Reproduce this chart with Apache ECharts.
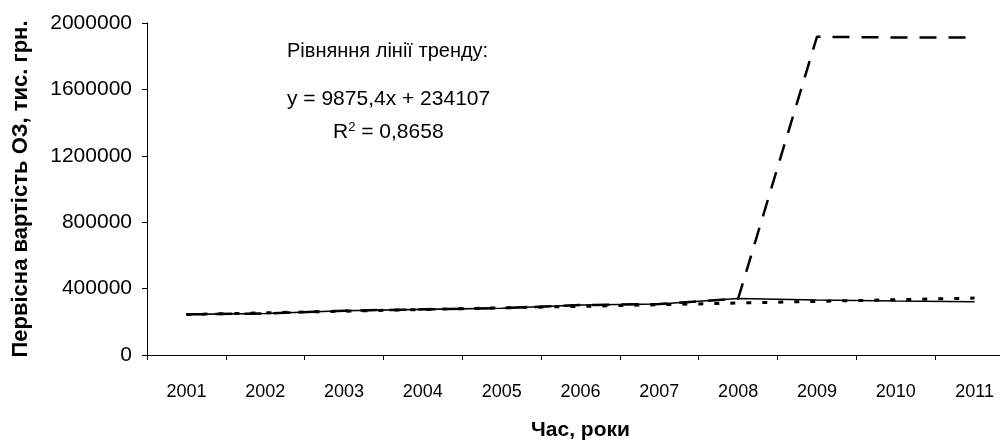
<!DOCTYPE html>
<html>
<head>
<meta charset="utf-8">
<script src="https://cdn.jsdelivr.net/npm/echarts@6/dist/echarts.min.js"></script>
<style>html,body{margin:0;padding:0;background:#fff}#c{width:1000px;height:441px}</style>
</head>
<body>
<div id="c"></div>
<script>
const years = ['2001','2002','2003','2004','2005','2006','2007','2008','2009','2010','2011'];
const actual = [245000, 250000, 267000, 275000, 282000, 301000, 307000, 340000, 331000, 325000, 321000];
const forecast = [245000, 250000, 267000, 275000, 282000, 301000, 307000, 340000, 1917000, 1913000, 1913000];
const trend = [244000, 254000, 264000, 274000, 284000, 293000, 303000, 313000, 323000, 333000, 343000];
const yTicks = [0, 400000, 800000, 1200000, 1600000, 2000000];

const FONT = '"Liberation Sans", Arial, sans-serif';
const chart = echarts.init(document.getElementById('c'), null, {renderer: 'canvas'});
chart.setOption({
  animation: false,
  backgroundColor: '#fff',
  grid: {left: 147, width: 867, top: 23, height: 332, containLabel: false, outerBoundsMode: 'none'},
  xAxis: {
    type: 'category', data: years, boundaryGap: true,
    name: 'Час, роки', nameLocation: 'middle', nameGap: 65,
    nameTextStyle: {fontFamily: FONT, fontSize: 21, fontWeight: 'bold', color: '#000'},
    axisLine: {lineStyle: {color: '#000', width: 1}},
    axisTick: {show: true, length: 5, lineStyle: {color: '#000'}},
    axisLabel: {fontFamily: FONT, fontSize: 18, color: '#000', margin: 28}
  },
  yAxis: {
    type: 'value', min: yTicks[0], max: yTicks[yTicks.length-1], interval: 400000,
    name: 'Первісна вартість ОЗ, тис. грн.', nameLocation: 'middle', nameGap: 115,
    nameTextStyle: {fontFamily: FONT, fontSize: 22, fontWeight: 'bold', color: '#000'},
    axisLine: {show: true, lineStyle: {color: '#000', width: 1}},
    axisTick: {show: true, length: 5, lineStyle: {color: '#000'}},
    splitLine: {show: false},
    axisLabel: {fontFamily: FONT, fontSize: 21, color: '#000', margin: 15,
      formatter: v => String(v)}
  },
  series: [
    {name: 'Фактичні', type: 'line', data: actual, symbol: 'none',
     lineStyle: {color: '#000', width: 1.6}, z: 3},
    {name: 'Прогноз', type: 'line', data: forecast, symbol: 'none',
     lineStyle: {color: '#000', width: 2.5, type: [17, 12]}, z: 2},
    {name: 'Тренд', type: 'line', data: trend, symbol: 'none',
     lineStyle: {color: '#000', width: 3, type: [5, 11]}, z: 1}
  ],
  graphic: [
    {type: 'text', left: 287, top: 41, style: {text: 'Рівняння лінії тренду:', font: '20px ' + FONT, fill: '#000'}},
    {type: 'text', left: 287, top: 89, style: {text: 'y = 9875,4x + 234107', font: '21px ' + FONT, fill: '#000'}},
    {type: 'text', left: 333, top: 121, style: {
      text: 'R{sup|2} = 0,8658', font: '21px ' + FONT, fill: '#000',
      rich: {sup: {fontSize: 13, fontFamily: FONT, verticalAlign: 'top', padding: [0,0,10,0], fill: '#000'}}
    }}
  ]
});
</script>
</body>
</html>
